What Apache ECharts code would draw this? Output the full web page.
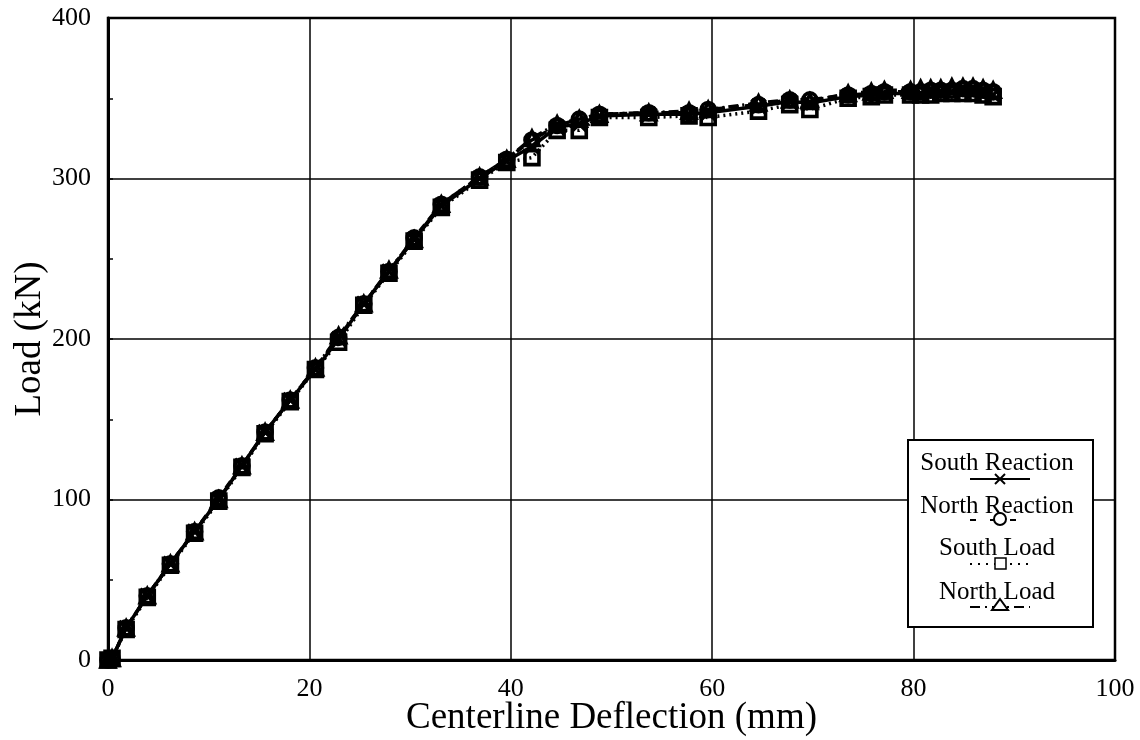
<!DOCTYPE html>
<html>
<head>
<meta charset="utf-8">
<script src="https://cdn.jsdelivr.net/npm/echarts@6/dist/echarts.min.js"></script>
<style>
html, body { margin: 0; padding: 0; background: #fff; }
#chart { width: 1140px; height: 740px; }
</style>
</head>
<body>
<div id="chart"></div>
<script>
// Centerline deflection (mm) at each load stage
const deflection = [0, 0.4, 1.8, 3.9, 6.2, 8.6, 11.0, 13.3, 15.6, 18.1, 20.6, 22.9, 25.4, 27.9, 30.4, 33.1, 36.9, 39.6, 42.1, 44.6, 46.8, 48.8, 53.7, 57.7, 59.6, 64.6, 67.7, 69.7, 73.5, 75.8, 77.1, 79.7, 80.7, 81.7, 82.7, 83.8, 84.9, 85.9, 86.9, 87.9];

// Measured loads (kN)
const southReaction = [0, 1, 20, 40, 60, 80, 100, 121, 142, 162, 181, 200, 222, 242, 262, 283, 300, 311, 320, 332, 334, 339, 340, 340, 341, 345, 348, 347, 351, 352, 353, 353, 353, 354, 354, 354, 355, 354, 353, 352];
const northReaction = [0, 1, 20, 40, 60, 80, 101, 121, 142, 162, 182, 201, 222, 242, 263, 284, 301, 312, 324, 333, 337, 340, 341, 341, 343, 346, 349, 349, 352, 353, 354, 354, 354, 355, 355, 355, 356, 356, 355, 354];
const southLoad = [0, 1, 19, 39, 59, 79, 99, 120, 141, 161, 181, 198, 221, 241, 261, 282, 299, 310, 313, 330, 330, 338, 338, 339, 338, 342, 346, 343, 350, 351, 352, 352, 352, 352, 353, 353, 353, 353, 352, 351];
const northLoad = [0, 1, 20, 40, 60, 80, 100, 121, 142, 162, 182, 202, 222, 243, 262, 284, 301, 312, 325, 334, 337, 340, 341, 342, 343, 347, 349, 348, 353, 354, 355, 355, 356, 356, 356, 357, 357, 357, 356, 355];

const xTicks = [0, 20, 40, 60, 80, 100];
const yTicks = [0, 100, 200, 300, 400];

const FONT = 'Liberation Serif';
const INK = '#000';

function pairs(loads) {
  return deflection.map((d, i) => [d, loads[i]]);
}

const CROSS = 'path://M0 0L10 10M10 0L0 10';
const TRIANGLE = 'path://M5 0L10 9L0 9Z';

function makeSeries(name, loads, symbol, dash) {
  return {
    name: name,
    type: 'line',
    data: pairs(loads),
    symbol: symbol,
    symbolSize: 14,
    showSymbol: true,
    clip: false,
    lineStyle: { color: INK, width: 3.5, type: dash },
    itemStyle: { color: 'rgba(255,255,255,0)', borderColor: INK, borderWidth: 3.6 },
    emphasis: { disabled: true },
    animation: false
  };
}

// Legend box: label above a short line sample with its marker
const LX = 908, LY = 440, LW = 185, LH = 187;
const legendRows = [
  { label: 'South Reaction', ty: 463, ly: 479, dash: null, mark: 'cross' },
  { label: 'North Reaction', ty: 506, ly: 520, dash: [6, 14], mark: 'circle' },
  { label: 'South Load', ty: 548, ly: 564, dash: [2, 6], mark: 'rect' },
  { label: 'North Load', ty: 592, ly: 607, dash: [10, 5, 2, 5], mark: 'triangle' }
];
const legendGraphics = [{
  type: 'rect',
  shape: { x: LX, y: LY, width: LW, height: LH },
  style: { fill: '#fff', stroke: INK, lineWidth: 2 },
  z: 100
}];
legendRows.forEach(r => {
  legendGraphics.push({
    type: 'text', z: 101,
    style: { text: r.label, x: 997, y: r.ty, font: '25px "' + FONT + '"', fill: INK, align: 'center', verticalAlign: 'middle' }
  });
  legendGraphics.push({
    type: 'line', z: 101,
    shape: { x1: 970, y1: r.ly, x2: 1030, y2: r.ly },
    style: { stroke: INK, lineWidth: 2.2, lineDash: r.dash }
  });
  let m;
  if (r.mark === 'cross') {
    m = { type: 'polyline', shape: { points: [[995, r.ly - 5], [1005, r.ly + 5]] }, style: { stroke: INK, lineWidth: 2 } };
    legendGraphics.push({ type: 'polyline', z: 102, shape: { points: [[1005, r.ly - 5], [995, r.ly + 5]] }, style: { stroke: INK, lineWidth: 2 } });
  } else if (r.mark === 'circle') {
    m = { type: 'circle', shape: { cx: 1000, cy: r.ly - 1, r: 6 }, style: { fill: '#fff', stroke: INK, lineWidth: 2 } };
  } else if (r.mark === 'rect') {
    m = { type: 'rect', shape: { x: 995, y: r.ly - 6, width: 11, height: 11 }, style: { fill: '#fff', stroke: INK, lineWidth: 1.5 } };
  } else {
    m = { type: 'polygon', shape: { points: [[1000, r.ly - 8], [1008, r.ly + 3], [992, r.ly + 3]] }, style: { fill: '#fff', stroke: INK, lineWidth: 2 } };
  }
  m.z = 102;
  legendGraphics.push(m);
});

const chart = echarts.init(document.getElementById('chart'), null, { renderer: 'canvas' });
chart.setOption({
  backgroundColor: '#fff',
  animation: false,
  textStyle: { fontFamily: FONT, color: INK },
  grid: {
    left: 108, right: 25, top: 18, bottom: 80,
    containLabel: false, outerBoundsMode: 'none',
    show: true, borderColor: INK, borderWidth: 2.5, backgroundColor: 'transparent'
  },
  xAxis: {
    type: 'value', min: xTicks[0], max: xTicks[xTicks.length - 1], interval: xTicks[1] - xTicks[0],
    name: 'Centerline Deflection (mm)', nameLocation: 'middle', nameGap: 40, nameMoveOverlap: false,
    nameTextStyle: { fontFamily: FONT, fontSize: 37, color: INK },
    axisLine: { lineStyle: { color: INK, width: 3 } },
    axisTick: { show: false },
    axisLabel: { fontFamily: FONT, fontSize: 26, color: INK, margin: 16 },
    splitLine: { show: true, lineStyle: { color: INK, width: 1.5 } }
  },
  yAxis: {
    type: 'value', min: yTicks[0], max: yTicks[yTicks.length - 1], interval: yTicks[1] - yTicks[0],
    name: 'Load (kN)', nameLocation: 'middle', nameGap: 59, nameRotate: 90, nameMoveOverlap: false,
    nameTextStyle: { fontFamily: FONT, fontSize: 37, color: INK },
    axisLine: { show: true, lineStyle: { color: INK, width: 3 } },
    axisTick: { show: true, inside: true, length: 5, lineStyle: { color: INK, width: 1.5 } },
    minorTick: { show: true, splitNumber: 2, length: 5, lineStyle: { color: INK, width: 1.5 } },
    axisLabel: { fontFamily: FONT, fontSize: 26, color: INK, margin: 17 },
    splitLine: { show: true, lineStyle: { color: INK, width: 1.5 } }
  },
  series: [
    makeSeries('South Reaction', southReaction, CROSS, 'solid'),
    makeSeries('North Reaction', northReaction, 'circle', [8, 6]),
    makeSeries('South Load', southLoad, 'rect', [2, 4]),
    makeSeries('North Load', northLoad, TRIANGLE, [10, 4, 2, 4])
  ],
  graphic: legendGraphics
});
</script>
</body>
</html>
